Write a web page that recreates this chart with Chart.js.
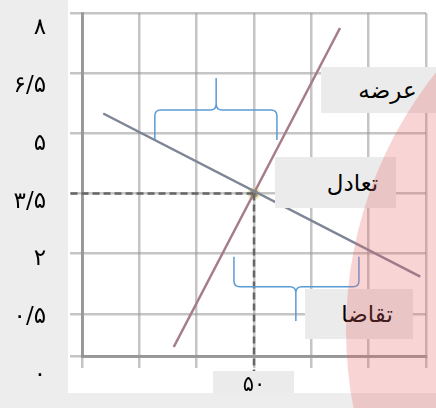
<!DOCTYPE html>
<html>
<head>
<meta charset="utf-8">
<script src="https://cdn.jsdelivr.net/npm/chart.js@4"></script>
<style>
  html, body { margin: 0; padding: 0; }
  #wrap { position: relative; width: 436px; height: 408px; background: #ededed; overflow: hidden; font-family: "DejaVu Sans", sans-serif; }
  #plotBg { position: absolute; left: 68px; top: 0; width: 368px; height: 393px; background: #fff; }
  #qBox { position: absolute; left: 213px; top: 371px; width: 81px; height: 22px; background: #ebebeb; }
  #chart1 { position: absolute; left: 0; top: 0; }
  .tag { position: absolute; background: #ebebeb; color: #000; font-size: 23px; display: flex; align-items: center; justify-content: center; direction: rtl; box-sizing: border-box; }
  #blob { position: absolute; left: 346px; top: -84px; width: 828px; height: 828px; border-radius: 50%; background: rgba(235, 100, 100, 0.28); pointer-events: none; }
</style>
</head>
<body>
<div id="wrap">
  <div id="plotBg"></div>
  <div id="qBox"></div>
  <canvas id="chart1" width="436" height="408"></canvas>
  <div class="tag" style="left:321px;top:67px;width:115px;height:46px;padding-left:18px;">عرضه</div>
  <div class="tag" style="left:275px;top:157px;width:121px;height:51px;padding-left:34px;">تعادل</div>
  <div class="tag" style="left:305px;top:289px;width:108px;height:50px;padding-left:16px;">تقاضا</div>
  <div id="blob"></div>
</div>
<script>
  // supply and demand lines (quantity units on x, price units on y)
  const supplyQ = [1.6, 4.5];
  const supplyP = [0.45, 5.75];
  const demandQ = [0.37, 5.9];
  const demandP = [4.33, 1.62];
  const eqQ = 3;
  const eqP = 3;

  // tick labels
  const priceLabels = ["۰", "۰/۵", "۲", "۳/۵", "۵", "۶/۵", "۸"];
  const qtyLabel = "۵۰";

  // braces: [from, to, tip, end level, bar level, tip level]
  const upperBrace = [1.27, 3.4, 2.34, 3.89, 4.39, 4.92];
  const lowerBrace = [2.65, 4.83, 3.73, 1.95, 1.45, 0.88];

  const toPoints = (xs, ys) => xs.map((x, i) => ({ x: x, y: ys[i] }));

  const braces = {
    id: "braces",
    afterDatasetsDraw(chart) {
      const ctx = chart.ctx;
      const sx = chart.scales.x, sy = chart.scales.y;
      [upperBrace, lowerBrace].forEach(b => {
        const x1 = sx.getPixelForValue(b[0]), x2 = sx.getPixelForValue(b[1]), xt = sx.getPixelForValue(b[2]);
        const ye = sy.getPixelForValue(b[3]), ym = sy.getPixelForValue(b[4]), yt = sy.getPixelForValue(b[5]);
        const d = Math.sign(ye - ym), r = 6;
        ctx.save();
        ctx.strokeStyle = "#5b9bd5";
        ctx.lineWidth = 1.5;
        ctx.beginPath();
        ctx.moveTo(x1, ye);
        ctx.lineTo(x1, ym + d * r);
        ctx.quadraticCurveTo(x1, ym, x1 + r, ym);
        ctx.lineTo(xt - r, ym);
        ctx.quadraticCurveTo(xt, ym, xt, ym - d * r);
        ctx.lineTo(xt, yt);
        ctx.moveTo(xt, ym - d * r);
        ctx.quadraticCurveTo(xt, ym, xt + r, ym);
        ctx.lineTo(x2 - r, ym);
        ctx.quadraticCurveTo(x2, ym, x2, ym + d * r);
        ctx.lineTo(x2, ye);
        ctx.stroke();
        ctx.restore();
      });
    }
  };

  const ctx = document.getElementById("chart1").getContext("2d");
  new Chart(ctx, {
    type: "scatter",
    data: {
      datasets: [
        {
          label: "guideH",
          data: [{ x: -0.2, y: eqP }, { x: eqQ, y: eqP }],
          showLine: true,
          borderColor: "#666",
          borderWidth: 2.5,
          borderDash: [7, 4],
          pointRadius: 0,
          clip: false
        },
        {
          label: "guideV",
          data: [{ x: eqQ, y: eqP }, { x: eqQ, y: 0.05 }],
          showLine: true,
          borderColor: "#666",
          borderWidth: 2.5,
          borderDash: [7, 4],
          pointRadius: 0,
          clip: false
        },
        {
          label: "demand",
          data: toPoints(demandQ, demandP),
          showLine: true,
          borderColor: "#7d8596",
          borderWidth: 2.5,
          pointRadius: 0
        },
        {
          label: "supply",
          data: toPoints(supplyQ, supplyP),
          showLine: true,
          borderColor: "#a57d86",
          borderWidth: 2.5,
          pointRadius: 0
        },
        {
          label: "equilibrium",
          data: [{ x: eqQ, y: eqP }],
          pointRadius: 4,
          pointBackgroundColor: "#3a3a2a",
          pointBorderColor: "rgba(225, 215, 150, 0.6)",
          pointBorderWidth: 5
        }
      ]
    },
    options: {
      responsive: false,
      animation: false,
      events: [],
      layout: { padding: { top: 13, right: 10, left: 0, bottom: 0 } },
      plugins: { legend: { display: false }, tooltip: { enabled: false } },
      scales: {
        x: {
          type: "linear",
          min: 0,
          max: 6,
          ticks: {
            stepSize: 1,
            autoSkip: false,
            maxRotation: 0,
            padding: 5,
            color: "#000",
            font: { family: "DejaVu Sans", size: 21 },
            callback: v => (v === eqQ ? qtyLabel : "")
          },
          grid: { color: "rgba(150, 150, 150, 0.55)", lineWidth: 2.5, tickLength: 12 },
          border: { color: "rgba(140, 140, 140, 0.8)", width: 3 },
          afterFit: s => { s.height = 52; s.paddingLeft = 0; s.paddingRight = 0; }
        },
        y: {
          type: "linear",
          min: 0.3,
          max: 6,
          weight: 0,
          ticks: { stepSize: 1, display: false },
          grid: { color: "rgba(150, 150, 150, 0.55)", lineWidth: 2.5, tickLength: 12 },
          border: { color: "rgba(140, 140, 140, 0.8)", width: 3 },
          afterFit: s => { s.width = 12; s.paddingTop = 0; s.paddingBottom = 0; }
        },
        yl: {
          type: "linear",
          position: "left",
          weight: 1,
          min: 0.329,
          max: 6.26,
          grid: { display: false, drawTicks: false },
          border: { display: false },
          ticks: {
            autoSkip: false,
            padding: 24,
            color: "#000",
            font: { family: "DejaVu Sans", size: 23 },
            callback: v => priceLabels[v]
          },
          afterBuildTicks: s => { s.ticks = priceLabels.map((t, i) => ({ value: i })); },
          afterFit: s => { s.width = 70; s.paddingTop = 0; s.paddingBottom = 0; }
        }
      }
    },
    plugins: [braces]
  });
</script>
</body>
</html>
